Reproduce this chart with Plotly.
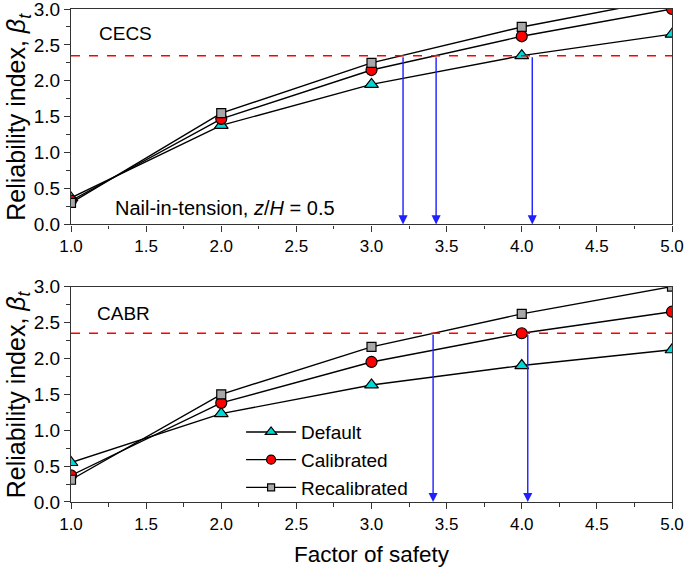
import plotly.graph_objects as go
from plotly.subplots import make_subplots

fos = [1.0, 2.0, 3.0, 4.0, 5.0]

# CECS (top panel)
cecs_default = [0.37, 1.38, 1.95, 2.35, 2.65]
cecs_calibrated = [0.33, 1.47, 2.15, 2.62, 3.00]
cecs_recalibrated = [0.30, 1.55, 2.25, 2.75, 3.15]
cecs_arrows = [3.21, 3.43, 4.07]

# CABR (bottom panel)
cabr_default = [0.55, 1.23, 1.63, 1.90, 2.12]
cabr_calibrated = [0.37, 1.38, 1.95, 2.35, 2.65]
cabr_recalibrated = [0.31, 1.50, 2.16, 2.62, 3.00]
cabr_arrows = [3.41, 4.04]

beta_target = 2.35

series_names = ["Default", "Calibrated", "Recalibrated"]
symbols = ["triangle-up", "circle", "square"]
fills = ["#00D8D8", "#FF0000", "#A8A8A8"]
plot_sizes = [12, 11, 9]
legend_sizes = [10, 9, 7]

fig = make_subplots(rows=2, cols=1, vertical_spacing=0.126)

FONT = "Liberation Sans, Arial, sans-serif"

for row, data in [(1, [cecs_default, cecs_calibrated, cecs_recalibrated]),
                  (2, [cabr_default, cabr_calibrated, cabr_recalibrated])]:
    for name, ys, sym, fc, sz in zip(series_names, data, symbols, fills, plot_sizes):
        fig.add_trace(go.Scatter(
            x=fos, y=ys, mode="lines+markers", name=name,
            line=dict(color="black", width=1.4),
            marker=dict(symbol=sym, size=sz, color=fc, line=dict(color="black", width=1.2)),
            showlegend=False), row=row, col=1)

# legend-only entries (smaller symbols, as in the reference legend)
for name, sym, fc, sz in zip(series_names, symbols, fills, legend_sizes):
    fig.add_trace(go.Scatter(
        x=[None], y=[None], mode="lines+markers", name=name,
        line=dict(color="black", width=1.4),
        marker=dict(symbol=sym, size=sz, color=fc, line=dict(color="black", width=1.2)),
        showlegend=True), row=2, col=1)

# target reliability dashed lines
for row in (1, 2):
    fig.add_trace(go.Scatter(
        x=[fos[0], fos[-1]], y=[beta_target, beta_target], mode="lines",
        line=dict(color="#FF0000", width=1.6, dash="dash"), showlegend=False,
        hoverinfo="skip"), row=row, col=1)

# arrows
for row, arr in [(1, cecs_arrows), (2, cabr_arrows)]:
    xr = "x" if row == 1 else "x2"
    yr = "y" if row == 1 else "y2"
    for xv in arr:
        fig.add_annotation(x=xv, y=0, ax=xv, ay=beta_target, xref=xr, yref=yr,
                           axref=xr, ayref=yr, showarrow=True, text="",
                           arrowhead=2, arrowsize=1.3, arrowwidth=1.4,
                           arrowcolor="#1F1FFF", standoff=0)

fig.add_annotation(x=1.17, y=2.66, xref="x", yref="y", text="CECS", showarrow=False,
                   xanchor="left", yanchor="middle", font=dict(size=19, family=FONT, color="black"))
fig.add_annotation(x=1.28, y=0.23, xref="x", yref="y",
                   text="Nail-in-tension, <i>z</i>/<i>H</i> = 0.5", showarrow=False,
                   xanchor="left", yanchor="middle", font=dict(size=20, family=FONT, color="black"))
fig.add_annotation(x=1.16, y=2.63, xref="x2", yref="y2", text="CABR", showarrow=False,
                   xanchor="left", yanchor="middle", font=dict(size=19, family=FONT, color="black"))

# axis titles as annotations for exact placement
ytitle = "Reliability index, <i>β</i><sub><i>t</i></sub>"
for yr in ("y domain", "y2 domain"):
    fig.add_annotation(x=0, y=0.5, xref="paper", yref=yr, xshift=-71, text=ytitle,
                       textangle=-90, showarrow=False, xanchor="left", yanchor="middle",
                       font=dict(size=25, family=FONT, color="black"))
fig.add_annotation(x=0.5, y=0, xref="paper", yref="paper", yshift=-38, text="Factor of safety",
                   showarrow=False, xanchor="center", yanchor="top",
                   font=dict(size=22.5, family=FONT, color="black"))

axis_common = dict(range=[1, 5], dtick=0.5, tickformat=".1f", ticks="outside", ticklen=6,
                   tickwidth=1.2, tickcolor="#333", showline=True, linecolor="#333",
                   linewidth=1.3, mirror=True, showgrid=False, zeroline=False, automargin=False,
                   ticklabeloverflow="allow",
                   minor=dict(ticks="outside", ticklen=3.5, tickwidth=1.1, tickcolor="#333", dtick=0.25),
                   tickfont=dict(size=17, family=FONT, color="black"))
yaxis_common = dict(axis_common)
yaxis_common["range"] = [0, 3]
yaxis_common["tickfont"] = dict(size=19, family=FONT, color="black")

fig.update_xaxes(**axis_common)
fig.update_yaxes(**yaxis_common)

fig.update_layout(
    width=685, height=570,
    margin=dict(l=71, r=13, t=9, b=68),
    plot_bgcolor="white", paper_bgcolor="white",
    font=dict(family=FONT, color="black"),
    legend=dict(x=0.283, y=0.085, xanchor="left", yanchor="middle",
                bgcolor="rgba(0,0,0,0)", font=dict(size=19, family=FONT, color="black"),
                itemwidth=50, tracegroupgap=0),
)

fig.write_html("out.html", config={"displayModeBar": False},
               post_script="document.body.style.margin='0px';document.body.style.padding='0px';")
